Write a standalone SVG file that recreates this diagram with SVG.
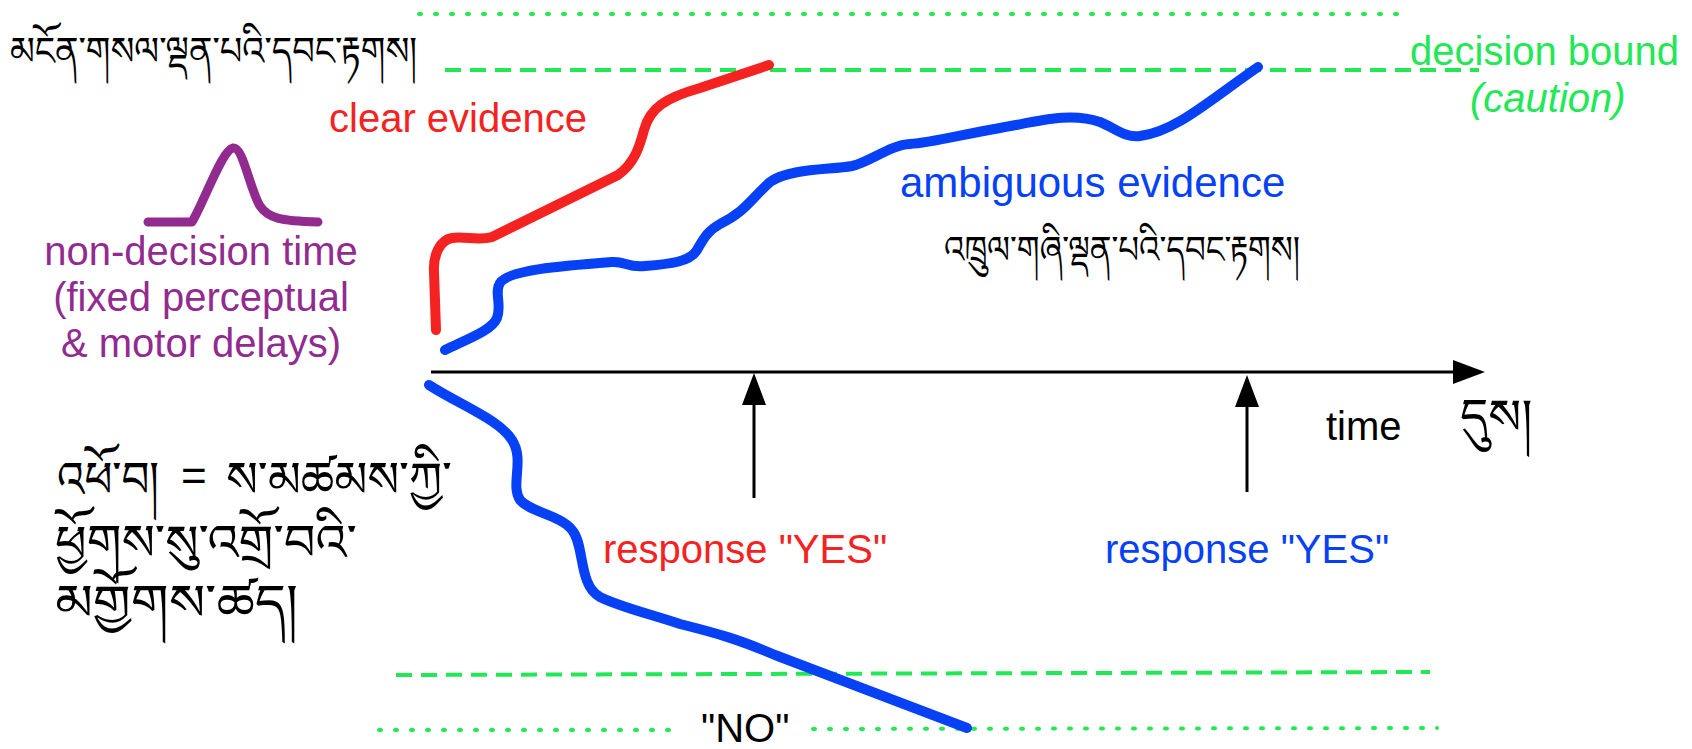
<svg xmlns="http://www.w3.org/2000/svg" width="1692" height="749" viewBox="0 0 1692 749">
<style>
.lbl{font-family:"Liberation Sans",Arial,sans-serif;font-size:40px}
.tib{font-family:"Noto Serif Tibetan","Jomolhari","Tibetan Machine Uni","Noto Sans Tibetan","DejaVu Sans",serif;fill:#000}
.dot{stroke:#22e855;stroke-width:4;stroke-linecap:round;stroke-dasharray:2 14;fill:none}
.dash{stroke:#22e855;stroke-width:4;stroke-dasharray:16 9;fill:none}
.trace{fill:none;stroke-width:10;stroke-linecap:round;stroke-linejoin:round}
.ax{stroke:#000;stroke-width:3;fill:none}
</style>
<defs>
<marker id="head" viewBox="0 0 32 24" refX="0" refY="12" markerWidth="32" markerHeight="24" markerUnits="userSpaceOnUse" orient="auto">
<path d="M0,0 L32,12 L0,24 z" fill="#000"/>
</marker>
</defs>
<rect width="1692" height="749" fill="#fff"/>

<g id="bounds">
<line class="dot" x1="419" y1="14" x2="1410" y2="14"/>
<line class="dash" x1="445" y1="70" x2="1479" y2="70"/>
<line class="dash" x1="396" y1="675" x2="1430" y2="672"/>
<line class="dot" x1="379" y1="730" x2="683" y2="730"/>
<line class="dot" x1="813" y1="729" x2="1437" y2="728"/>
</g>

<g id="decision-bound-label" fill="#22e855">
<text class="lbl" x="1410" y="65">decision bound</text>
<text class="lbl" x="1470" y="112" font-style="italic">(caution)</text>
</g>

<g id="tib-clear">
<text class="tib" x="10" y="65" font-size="40" textLength="407" lengthAdjust="spacingAndGlyphs">མངོན་གསལ་ལྡན་པའི་དབང་རྟགས།</text>
</g>

<g id="clear-evidence">
<text class="lbl" x="329" y="132" fill="#f52222">clear evidence</text>
<path class="trace" stroke="#f52222" d="M436,330 L434,272 C433,255 440,240 452,238 C465,236 478,241 492,237 L618,175 C635,163 640,145 644,130 C650,108 665,98 700,88 L769,65"/>
</g>

<g id="non-decision">
<path d="M148,222 L192,222 C205,200 222,150 233,148 C243,146 250,190 260,206 C268,218 280,221 318,222" fill="none" stroke="#922b8f" stroke-width="9" stroke-linecap="round" stroke-linejoin="round"/>
<text class="lbl" fill="#922b8f" text-anchor="middle" x="201" y="265">non-decision time</text>
<text class="lbl" fill="#922b8f" text-anchor="middle" x="201" y="311">(fixed perceptual</text>
<text class="lbl" fill="#922b8f" text-anchor="middle" x="201" y="357">&amp; motor delays)</text>
</g>

<g id="ambiguous-evidence">
<path class="trace" stroke="#0641f5" d="M445,350 C470,338 492,330 497,318 C502,305 494,292 500,283 C508,270 560,266 612,262 C625,261 628,268 645,266 C670,264 690,262 697,250 C703,240 706,232 720,224 C745,212 750,200 770,182 C790,168 830,170 852,166 C870,162 890,145 910,144 C930,143 960,135 1000,128 C1040,121 1070,112 1100,122 C1115,128 1125,138 1140,136 C1175,132 1210,100 1258,67"/>
<text class="lbl" x="900" y="197" style="font-size:42px" fill="#0641f5">ambiguous evidence</text>
<text class="tib" x="944" y="263" font-size="38" textLength="356" lengthAdjust="spacingAndGlyphs">འཁྲུལ་གཞི་ལྡན་པའི་དབང་རྟགས།</text>
</g>

<g id="no-trace">
<path class="trace" stroke="#0641f5" d="M429,385 C460,405 500,420 512,440 C525,460 510,485 520,500 C530,512 560,515 572,530 C585,545 578,585 600,597 C620,607 650,614 680,624 C720,634 740,640 775,655 L967,728"/>
<text class="lbl" x="701" y="742" fill="#000">"NO"</text>
</g>

<g id="drift-label">
<text class="tib" font-size="50" x="57" y="497" textLength="102" lengthAdjust="spacingAndGlyphs">འཕོ་བ།</text>
<text font-family="Liberation Sans,Arial,sans-serif" font-size="44" x="181" y="491">=</text>
<text class="tib" font-size="50" x="226" y="497" textLength="226" lengthAdjust="spacingAndGlyphs">ས་མཚམས་ཀྱི་</text>
<text class="tib" font-size="50" x="55" y="560" textLength="302" lengthAdjust="spacingAndGlyphs">ཕྱོགས་སུ་འགྲོ་བའི་</text>
<text class="tib" font-size="50" x="55" y="620" textLength="243" lengthAdjust="spacingAndGlyphs">མགྱོགས་ཚད།</text>
</g>

<g id="time-label">
<text class="lbl" x="1326" y="440" fill="#000">time</text>
<text class="tib" font-size="49" x="1460" y="434">དུས།</text>
</g>

<g id="response-red">
<text class="lbl" x="603" y="563" fill="#f52222">response "YES"</text>
</g>
<g id="response-blue">
<text class="lbl" x="1105" y="563" fill="#0641f5">response "YES"</text>
</g>

<g id="connectors">
<line class="ax" x1="431" y1="372" x2="1453" y2="372" marker-end="url(#head)"/>
<line class="ax" x1="754" y1="498" x2="754" y2="405" marker-end="url(#head)"/>
<line class="ax" x1="1247" y1="492" x2="1247" y2="407" marker-end="url(#head)"/>
</g>
</svg>
